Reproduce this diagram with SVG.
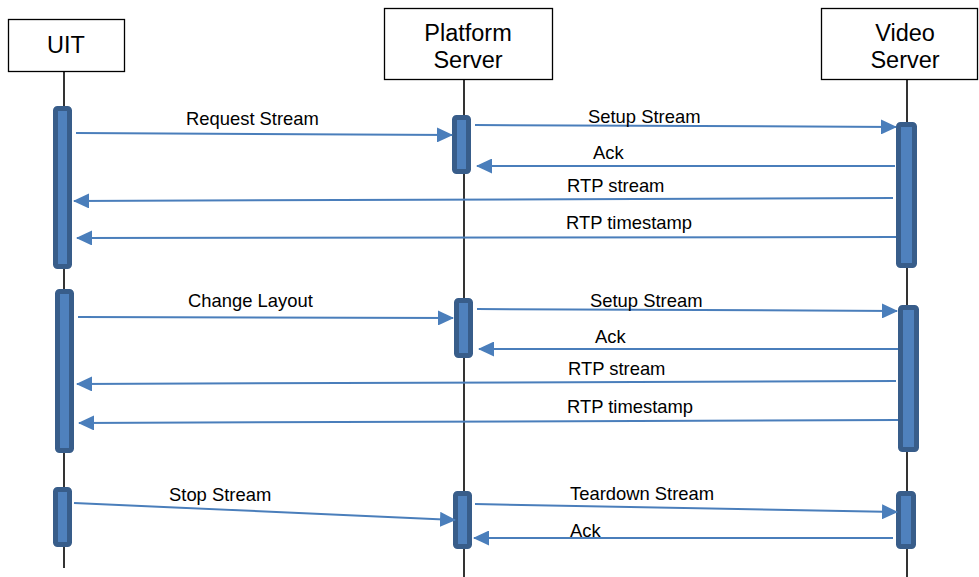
<svg xmlns="http://www.w3.org/2000/svg" width="979" height="577" viewBox="0 0 979 577">
<defs>
<style>
.box{fill:#fff;stroke:#000;stroke-width:1.3}
.hdr{font-family:"Liberation Sans",Arial,sans-serif;font-size:23.5px;fill:#000;text-anchor:middle}
.life{stroke:#000;stroke-width:1.6}
.act{fill:#4f81bd;stroke:#385d8a;stroke-width:5;stroke-linejoin:round}
.msg{stroke:#4a7ebb;stroke-width:2;fill:none}
.arr{stroke:#4a7ebb;stroke-width:2;fill:none;marker-end:url(#ah)}
.lbl{font-family:"Liberation Sans",Arial,sans-serif;font-size:18.4px;fill:#000}
</style>
<marker id="ah" viewBox="0 0 16 15" refX="15" refY="7.5" markerWidth="16" markerHeight="15" markerUnits="userSpaceOnUse" orient="auto">
<path d="M0,0 L16,7.5 L0,15 z" fill="#4a7ebb"/>
</marker>
</defs>
<g id="lifelines">
<line class="life" x1="64" y1="72" x2="64" y2="568"/>
<line class="life" x1="464" y1="80" x2="464" y2="577"/>
<line class="life" x1="907" y1="80" x2="907" y2="577"/>
</g>
<g id="uit">
<rect class="box" x="8.5" y="19.5" width="116" height="52"/>
<text class="hdr" x="66" y="53">UIT</text>
</g>
<g id="platform">
<rect class="box" x="384.5" y="8.5" width="168" height="71"/>
<text class="hdr" x="468" y="41">Platform</text>
<text class="hdr" x="468" y="68">Server</text>
</g>
<g id="video">
<rect class="box" x="821.5" y="8.5" width="156" height="71"/>
<text class="hdr" x="905" y="41">Video</text>
<text class="hdr" x="905" y="68">Server</text>
</g>
<g id="activations">
<rect class="act" x="55.5" y="108.5" width="14" height="158" rx="2"/>
<rect class="act" x="57.5" y="291.5" width="14" height="159" rx="2"/>
<rect class="act" x="55.5" y="489.5" width="14" height="55" rx="2"/>
<rect class="act" x="454.5" y="117.5" width="14" height="54" rx="2"/>
<rect class="act" x="456.5" y="300.5" width="14" height="55" rx="2"/>
<rect class="act" x="455.5" y="493.5" width="14" height="53" rx="2"/>
<rect class="act" x="898.5" y="124.5" width="16" height="141" rx="2"/>
<rect class="act" x="900.5" y="307.5" width="16" height="142" rx="2"/>
<rect class="act" x="898.5" y="493.5" width="15" height="53" rx="2"/>
</g>
<g id="connectors">
<line class="arr" x1="76" y1="133" x2="452" y2="135"/>
<line class="arr" x1="475" y1="125" x2="896" y2="127"/>
<line class="arr" x1="895" y1="166" x2="477" y2="166"/>
<line class="arr" x1="893" y1="198" x2="74" y2="201"/>
<line class="arr" x1="896" y1="237" x2="77" y2="238"/>
<line class="arr" x1="78" y1="317" x2="453" y2="318"/>
<line class="arr" x1="477" y1="309" x2="897" y2="311"/>
<line class="arr" x1="898" y1="349" x2="479" y2="349"/>
<line class="arr" x1="896" y1="381" x2="77" y2="384"/>
<line class="arr" x1="898" y1="420" x2="79" y2="423"/>
<line class="arr" x1="74" y1="503" x2="455" y2="520"/>
<line class="arr" x1="475" y1="504" x2="897" y2="512"/>
<line class="arr" x1="893" y1="538" x2="474" y2="538"/>
</g>
<g id="labels">
<text class="lbl" x="186" y="125">Request Stream</text>
<text class="lbl" x="588" y="123">Setup Stream</text>
<text class="lbl" x="593" y="159">Ack</text>
<text class="lbl" x="567" y="192">RTP stream</text>
<text class="lbl" x="566" y="229">RTP timestamp</text>
<text class="lbl" x="188" y="307">Change Layout</text>
<text class="lbl" x="590" y="307">Setup Stream</text>
<text class="lbl" x="595" y="343">Ack</text>
<text class="lbl" x="568" y="375">RTP stream</text>
<text class="lbl" x="567" y="413">RTP timestamp</text>
<text class="lbl" x="169" y="501">Stop Stream</text>
<text class="lbl" x="570" y="500">Teardown Stream</text>
<text class="lbl" x="570" y="537">Ack</text>
</g>
</svg>
